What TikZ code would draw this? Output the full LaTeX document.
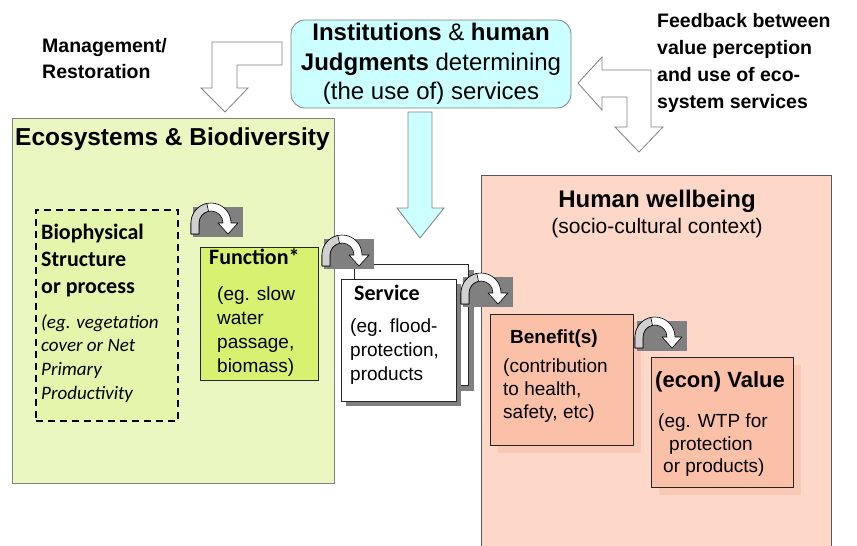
\documentclass[tikz,border=0pt]{standalone}
\usepackage{fontspec}
\setmainfont{Liberation Sans}
\newfontfamily\calibrifont{Carlito}
\usetikzlibrary{positioning, calc}
\definecolor{ecogreen}{RGB}{235,247,192}
\definecolor{biogreen}{RGB}{228,245,172}
\definecolor{funcgreen}{RGB}{215,241,112}
\definecolor{humanpink}{RGB}{253,216,200}
\definecolor{benefitpink}{RGB}{251,192,168}
\definecolor{softshadow}{RGB}{249,201,182}
\definecolor{instcyan}{RGB}{204,255,255}
\definecolor{framegray}{RGB}{128,128,128}
\definecolor{bendgray}{RGB}{208,208,208}

% turning arrow on a grey patch, #1 #2 = centre of the bend
\newcommand{\turnarrow}[2]{%
  \fill[framegray] (#1-18,#2-16) rectangle (#1+32,#2+14);
  \draw[fill=white, line width=0.6pt, line join=round] (#1-20,#2+11) -- (#1-20,#2)
    arc[start angle=180, end angle=0, radius=20pt] -- (#1+27,#2) -- (#1+17,#2+11)
    -- (#1+7,#2) -- (#1+12,#2) arc[start angle=0, end angle=180, radius=12pt]
    -- (#1-12,#2+11) -- cycle;
  \draw[fill=bendgray, line width=0.6pt, line join=round] (#1-20,#2+11) -- (#1-20,#2)
    arc[start angle=180, end angle=102, radius=20pt] -- (#1-2.5,#2-11.74)
    arc[start angle=102, end angle=180, radius=12pt] -- (#1-12,#2+11) -- cycle;
}

\begin{document}
\begin{tikzpicture}[x=1pt, y=-1pt,
    areabox/.style={draw=framegray, line width=0.8pt, anchor=north west, inner sep=0pt},
    itembox/.style={draw=black!85, line width=0.7pt, anchor=north west, inner sep=0pt},
    blockarrow/.style={draw=framegray, line width=0.8pt, line join=miter},
    boxtitle/.style={anchor=base west, inner sep=0pt, align=left, font=\calibrifont\bfseries\fontsize{22}{27}\selectfont},
    bodytext/.style={anchor=north west, inner sep=0pt, align=left, font=\fontsize{19}{23.7}\selectfont},
    sidenote/.style={anchor=north west, inner sep=0pt, align=left}]
\clip (0,0) rectangle (857,546);

% the two big areas
\node[areabox, fill=ecogreen, minimum width=322pt, minimum height=365pt] (eco) at (12,118) {};
\node[areabox, draw=black!65, fill=humanpink, minimum width=350pt, minimum height=400pt] (human) at (481,175) {};
\node[anchor=base west, inner sep=0pt, font=\bfseries\fontsize{24.5}{29}\selectfont] (ecotitle) at (15,145) {Ecosystems \& Biodiversity};
\node[anchor=base, inner sep=0pt, font=\bfseries\fontsize{24}{29}\selectfont] (humantitle) at (657,207) {Human wellbeing};
\node[anchor=base, inner sep=0pt, font=\fontsize{21}{25}\selectfont] (humansub) at (657,233) {(socio-cultural context)};

% top
\node[draw=framegray, line width=0.8pt, fill=instcyan, rounded corners=14pt, minimum width=280pt, minimum height=88pt,
      align=center, inner sep=0pt, font=\fontsize{24}{29.5}\selectfont] (inst) at (431,64)
     {\textbf{Institutions} \& \textbf{human}\\\textbf{Judgments} determining\\(the use of) services};
\node[sidenote, font=\bfseries\fontsize{19.5}{26}\selectfont] (manage) at (42,38) {Management/\\Restoration};
\node[sidenote, font=\bfseries\fontsize{19.5}{27}\selectfont] (feedback) at (657,13) {Feedback between\\value perception\\and use of eco-\\system services};

% block arrows
\draw[blockarrow, fill=white] (212,42) -- (282,42) -- (282,65) -- (237,65) -- (237,88) -- (248,88)
    -- (225,112) -- (201,88) -- (212,88) -- cycle;
\draw[blockarrow, fill=white] (578,83) -- (602,57) -- (602,70) -- (651,70) -- (651,127) -- (663,127)
    -- (639,152) -- (615,127) -- (627,127) -- (627,97) -- (602,97) -- (602,110) -- cycle;
\draw[blockarrow, fill=instcyan] (408,112) -- (432,112) -- (432,208) -- (444,208) -- (420,238)
    -- (397,208) -- (408,208) -- cycle;

% biophysical structure
\node[itembox, draw=black, dash pattern=on 7pt off 5pt, line width=2pt, fill=biogreen,
      minimum width=142pt, minimum height=211pt] (bio) at (35,209) {};
\node[boxtitle, anchor=north west] (biotitle) at (41,224) {Biophysical\\Structure\\or process};
\node[bodytext, font=\calibrifont\itshape\fontsize{19}{23.7}\selectfont] (biobody) at (41,314)
     {(eg. vegetation\\cover or Net\\Primary\\Productivity};

% function
\node[itembox, fill=funcgreen, minimum width=118pt, minimum height=133pt] (function) at (200,247) {};
\node[boxtitle] (functiontitle) at (209,264) {Function*};
\node[bodytext] (functionbody) at (217,287) {(eg. slow\\water\\passage,\\biomass)};

% service (two stacked sheets)
\fill[framegray] (359,270) rectangle (474,391);
\node[itembox, fill=white, minimum width=114pt, minimum height=121pt] (serviceback) at (354,264) {};
\fill[framegray] (346,284) rectangle (461,406);
\node[itembox, fill=white, minimum width=115pt, minimum height=122pt] (service) at (341,279) {};
\node[boxtitle] (servicetitle) at (354,300) {Service};
\node[bodytext] (servicebody) at (350,319) {(eg. flood-\\protection,\\products};

% benefit
\fill[softshadow] (498,322) rectangle (641,453);
\node[itembox, fill=benefitpink, minimum width=143pt, minimum height=131pt] (benefit) at (490,314) {};
\node[boxtitle, font=\bfseries\fontsize{19}{24}\selectfont] (benefittitle) at (510,343) {Benefit(s)};
\node[bodytext, font=\fontsize{19}{23}\selectfont] (benefitbody) at (503,359) {(contribution\\to health,\\safety, etc)};

% value
\fill[softshadow] (659,365) rectangle (801,495);
\node[itembox, fill=benefitpink, minimum width=142pt, minimum height=130pt] (value) at (651,357) {};
\node[boxtitle, font=\bfseries\fontsize{22}{26}\selectfont] (valuetitle) at (655,387) {(econ) Value};
\node[bodytext, font=\fontsize{19}{22.5}\selectfont] (valuebody) at (658,414)
     {(eg. WTP for\\\hspace*{11pt}protection\\\hspace*{5pt}or products)};

% turning arrows between the steps
\turnarrow{211}{223}
\turnarrow{342}{255}
\turnarrow{481}{293}
\turnarrow{655}{337}
\end{tikzpicture}
\end{document}
